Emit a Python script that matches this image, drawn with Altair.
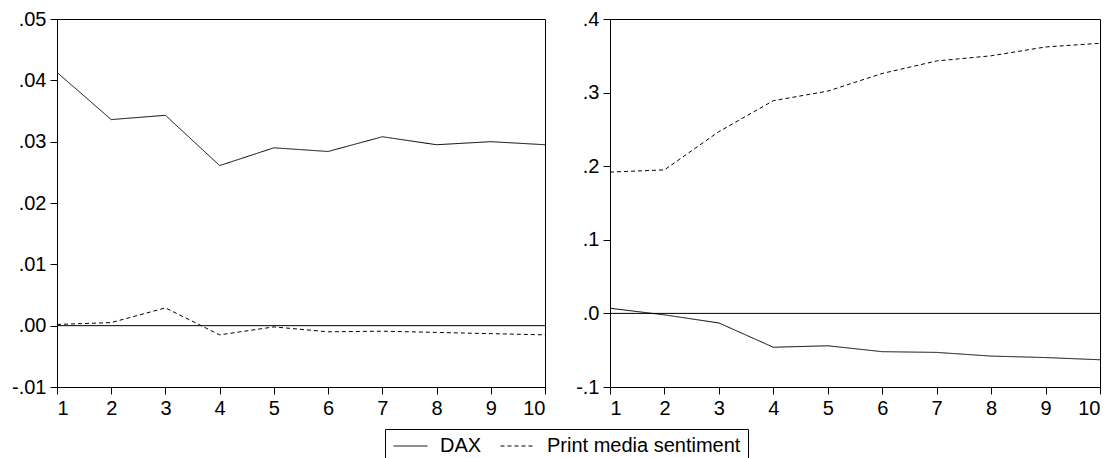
import altair as alt
import pandas as pd

steps = list(range(1, 11))
series_names = ["DAX", "Print media sentiment"]

left_dax = [0.0413, 0.0336, 0.0343, 0.0261, 0.0290, 0.0284, 0.0308, 0.0295, 0.0300, 0.0295]
left_print = [0.0002, 0.0005, 0.0029, -0.0015, -0.0002, -0.0010, -0.0009, -0.0011, -0.0013, -0.0015]
right_dax = [0.007, -0.002, -0.013, -0.046, -0.044, -0.052, -0.053, -0.058, -0.060, -0.063]
right_print = [0.192, 0.195, 0.247, 0.289, 0.302, 0.326, 0.343, 0.350, 0.362, 0.367]

left_ticks = [-0.01, 0.0, 0.01, 0.02, 0.03, 0.04, 0.05]
right_ticks = [-0.1, 0.0, 0.1, 0.2, 0.3, 0.4]

FONT = "Liberation Sans"


def panel(dax, pm, domain, ticks, fmt, width, show_legend):
    df = pd.DataFrame({
        "step": steps * 2,
        "series": [series_names[0]] * 10 + [series_names[1]] * 10,
        "value": dax + pm,
    })
    if show_legend:
        legend = alt.Legend(
            title=None, orient="none", direction="horizontal",
            legendX=328, legendY=410,
            strokeColor="black", fillColor="white", padding=7,
            symbolType="M-1,0H3", symbolSize=289, symbolStrokeWidth=1,
            symbolStrokeColor="black",
            labelFont=FONT, labelFontSize=20, labelColor="black", labelLimit=0,
            columnPadding=16, labelOffset=28, cornerRadius=0,
        )
    else:
        legend = None
    label_expr = (
        f"(datum.value < -1e-9 ? '-' : '') + "
        f"replace(format(abs(datum.value), '{fmt}'), '0.', '.')"
    )
    lines = alt.Chart(df).mark_line(color="black", strokeWidth=1).encode(
        x=alt.X("step:Q", scale=alt.Scale(domain=[1, 10], nice=False, zero=False),
                axis=alt.Axis(values=steps, title=None, format="d")),
        y=alt.Y("value:Q", scale=alt.Scale(domain=domain, nice=False, zero=False),
                axis=alt.Axis(values=ticks, title=None, labelExpr=label_expr)),
        strokeDash=alt.StrokeDash(
            "series:N",
            scale=alt.Scale(domain=series_names, range=[[1, 0], [4, 3]]),
            legend=legend,
        ),
    )
    zero = alt.Chart(pd.DataFrame({"z": [0.0]})).mark_rule(color="black", strokeWidth=1).encode(
        y=alt.Y("z:Q")
    )
    return alt.layer(zero, lines).properties(width=width, height=368)


left = panel(left_dax, left_print, [-0.01, 0.05], left_ticks, ".2f", 488, True)
right = panel(right_dax, right_print, [-0.1, 0.4], right_ticks, ".1f", 490, False)

chart = alt.hconcat(left, right, spacing=27).properties(
    padding={"left": 3, "top": 0, "right": 0, "bottom": 0}
).configure(
    background="white",
    view=alt.ViewConfig(stroke="black", strokeWidth=1),
    axis=alt.AxisConfig(
        grid=False, domainColor="black", tickColor="black", labelColor="black",
        labelFont=FONT, labelFontSize=20, tickSize=7, labelPadding=4,
        domainWidth=1, tickWidth=1,
    ),
)

chart.save("out.html", embed_options={"renderer": "svg", "actions": False})
